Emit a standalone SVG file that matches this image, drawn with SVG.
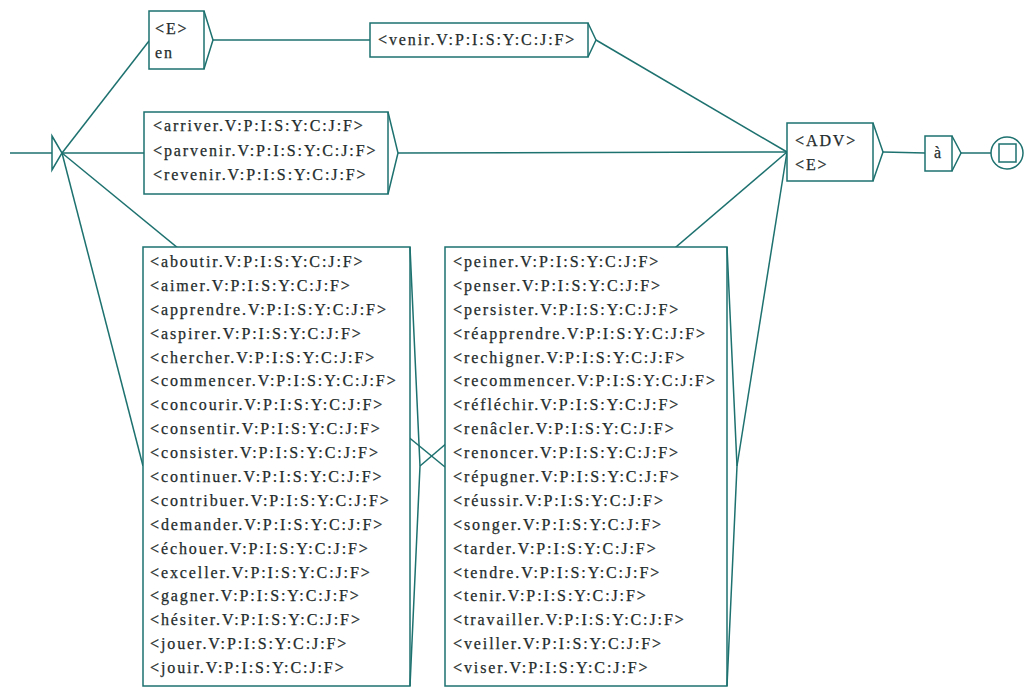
<svg xmlns="http://www.w3.org/2000/svg" width="1024" height="688" viewBox="0 0 1024 688">
<style>
.ln{stroke:#1d716f;stroke-width:1.5;fill:none}
.bx{stroke:#1d716f;stroke-width:1.5;fill:#ffffff}
.tr{stroke:#1d716f;stroke-width:1.5;fill:none;stroke-linejoin:miter}
.t{font-family:'Liberation Serif','DejaVu Serif',serif;font-size:16px;fill:#1f2c2c;letter-spacing:1.9px;stroke:#1f2c2c;stroke-width:0.25px}
</style>
<rect width="1024" height="688" fill="#ffffff"/>
<g id="connectors">
<path class="ln" d="M62,153 L149,41"/>
<path class="ln" d="M62,153 L144,153"/>
<path class="ln" d="M62,153 L143,466"/>
<path class="ln" d="M62,153 L445,467"/>
<path class="ln" d="M213,40 L370,40"/>
<path class="ln" d="M596,40 L787,152"/>
<path class="ln" d="M398,153 L787,152"/>
<path class="ln" d="M420,466 L787,152"/>
<path class="ln" d="M737,466 L787,152"/>
<path class="ln" d="M883,152 L925,153"/>
<path class="ln" d="M961,153 L991,153"/>
</g>
<g id="initial">
<path class="ln" d="M10,153 L52,153"/>
<path class="tr" d="M52,136 L62,153 L52,170 Z" fill="#ffffff"/>
</g>
<g id="box-e-en" class="t">
<rect class="bx" x="149" y="11" width="55" height="58"/>
<path class="tr" d="M204,11 L213,40 L204,69"/>
<text x="155" y="34">&lt;E&gt;</text>
<text x="155" y="58">en</text>
</g>
<g id="box-venir" class="t">
<rect class="bx" x="370" y="23" width="218" height="34"/>
<path class="tr" d="M588,23 L596,40 L588,57"/>
<text x="378" y="45">&lt;venir.V:P:I:S:Y:C:J:F&gt;</text>
</g>
<g id="box-arriver" class="t">
<rect class="bx" x="144" y="112" width="244" height="82"/>
<path class="tr" d="M388,112 L398,153 L388,194"/>
<text x="153" y="131">&lt;arriver.V:P:I:S:Y:C:J:F&gt;</text>
<text x="153" y="156">&lt;parvenir.V:P:I:S:Y:C:J:F&gt;</text>
<text x="153" y="180">&lt;revenir.V:P:I:S:Y:C:J:F&gt;</text>
</g>
<g id="box-aboutir" class="t">
<rect class="bx" x="143" y="247" width="267" height="439"/>
<path class="tr" d="M410,247 L420,466 L410,686"/>
<text x="150" y="267">&lt;aboutir.V:P:I:S:Y:C:J:F&gt;</text>
<text x="150" y="291">&lt;aimer.V:P:I:S:Y:C:J:F&gt;</text>
<text x="150" y="315">&lt;apprendre.V:P:I:S:Y:C:J:F&gt;</text>
<text x="150" y="339">&lt;aspirer.V:P:I:S:Y:C:J:F&gt;</text>
<text x="150" y="363">&lt;chercher.V:P:I:S:Y:C:J:F&gt;</text>
<text x="150" y="386">&lt;commencer.V:P:I:S:Y:C:J:F&gt;</text>
<text x="150" y="410">&lt;concourir.V:P:I:S:Y:C:J:F&gt;</text>
<text x="150" y="434">&lt;consentir.V:P:I:S:Y:C:J:F&gt;</text>
<text x="150" y="458">&lt;consister.V:P:I:S:Y:C:J:F&gt;</text>
<text x="150" y="482">&lt;continuer.V:P:I:S:Y:C:J:F&gt;</text>
<text x="150" y="506">&lt;contribuer.V:P:I:S:Y:C:J:F&gt;</text>
<text x="150" y="530">&lt;demander.V:P:I:S:Y:C:J:F&gt;</text>
<text x="150" y="554">&lt;échouer.V:P:I:S:Y:C:J:F&gt;</text>
<text x="150" y="578">&lt;exceller.V:P:I:S:Y:C:J:F&gt;</text>
<text x="150" y="601">&lt;gagner.V:P:I:S:Y:C:J:F&gt;</text>
<text x="150" y="625">&lt;hésiter.V:P:I:S:Y:C:J:F&gt;</text>
<text x="150" y="649">&lt;jouer.V:P:I:S:Y:C:J:F&gt;</text>
<text x="150" y="673">&lt;jouir.V:P:I:S:Y:C:J:F&gt;</text>
</g>
<g id="box-peiner" class="t">
<rect class="bx" x="445" y="247" width="282" height="439"/>
<path class="tr" d="M727,247 L737,466 L727,686"/>
<text x="453" y="267">&lt;peiner.V:P:I:S:Y:C:J:F&gt;</text>
<text x="453" y="291">&lt;penser.V:P:I:S:Y:C:J:F&gt;</text>
<text x="453" y="315">&lt;persister.V:P:I:S:Y:C:J:F&gt;</text>
<text x="453" y="339">&lt;réapprendre.V:P:I:S:Y:C:J:F&gt;</text>
<text x="453" y="363">&lt;rechigner.V:P:I:S:Y:C:J:F&gt;</text>
<text x="453" y="386">&lt;recommencer.V:P:I:S:Y:C:J:F&gt;</text>
<text x="453" y="410">&lt;réfléchir.V:P:I:S:Y:C:J:F&gt;</text>
<text x="453" y="434">&lt;renâcler.V:P:I:S:Y:C:J:F&gt;</text>
<text x="453" y="458">&lt;renoncer.V:P:I:S:Y:C:J:F&gt;</text>
<text x="453" y="482">&lt;répugner.V:P:I:S:Y:C:J:F&gt;</text>
<text x="453" y="506">&lt;réussir.V:P:I:S:Y:C:J:F&gt;</text>
<text x="453" y="530">&lt;songer.V:P:I:S:Y:C:J:F&gt;</text>
<text x="453" y="554">&lt;tarder.V:P:I:S:Y:C:J:F&gt;</text>
<text x="453" y="578">&lt;tendre.V:P:I:S:Y:C:J:F&gt;</text>
<text x="453" y="601">&lt;tenir.V:P:I:S:Y:C:J:F&gt;</text>
<text x="453" y="625">&lt;travailler.V:P:I:S:Y:C:J:F&gt;</text>
<text x="453" y="649">&lt;veiller.V:P:I:S:Y:C:J:F&gt;</text>
<text x="453" y="673">&lt;viser.V:P:I:S:Y:C:J:F&gt;</text>
</g>
<g id="box-adv" class="t">
<rect class="bx" x="787" y="123" width="86" height="58"/>
<path class="tr" d="M873,123 L883,152 L873,181"/>
<text x="795" y="146">&lt;ADV&gt;</text>
<text x="795" y="170">&lt;E&gt;</text>
</g>
<g id="box-a" class="t">
<rect class="bx" x="925" y="136" width="27" height="35"/>
<path class="tr" d="M952,136 L961,153 L952,171"/>
<text x="934" y="158">à</text>
</g>
<g id="final">
<circle class="bx" cx="1007" cy="153" r="16"/>
<rect class="ln" x="999" y="144" width="17" height="18"/>
</g>
</svg>
